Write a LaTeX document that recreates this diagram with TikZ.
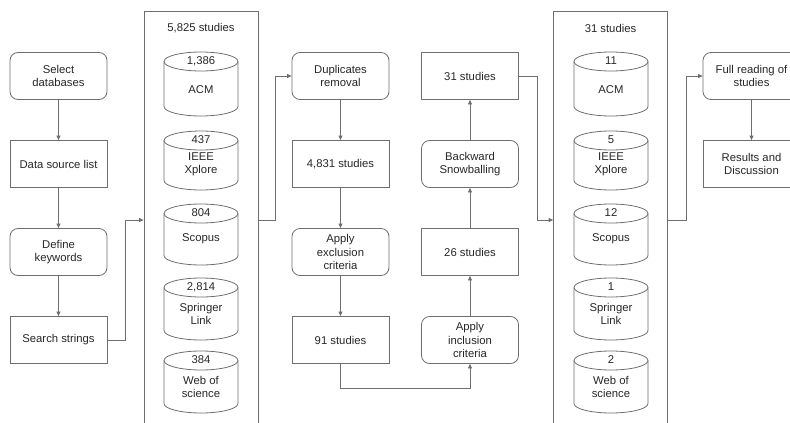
\documentclass[tikz,border=0pt]{standalone}
\usepackage{fontspec}
\setmainfont{Liberation Sans}
\usetikzlibrary{arrows.meta}
\definecolor{linegray}{HTML}{6E6E6E}
\definecolor{textgray}{HTML}{262626}
\tikzset{
  txt/.style={font=\fontsize{11.3}{13.3}\selectfont, text=textgray, align=center, inner sep=0pt},
  plainbox/.style={txt, draw=linegray, line width=0.8pt, minimum width=97pt, minimum height=47pt},
  roundbox/.style={plainbox, rounded corners=8pt},
  frame/.style={draw=linegray, line width=0.8pt, minimum width=114pt, minimum height=418pt, inner sep=0pt},
  line/.style={draw=linegray, line width=0.8pt},
  arr/.style={line, -{Triangle[length=4.5pt,width=4pt]}}
}
\begin{document}
\begin{tikzpicture}[x=1pt,y=-1pt]
		\useasboundingbox (0,0) rectangle (790,423);
		\clip (0,0) rectangle (790,423);

		% Planning
		\node[roundbox] (select) at (58.5,76) {Select\\databases};
		\node[plainbox] (source) at (58.5,164) {Data source list};
		\node[roundbox] (keywords) at (58.5,252) {Define\\keywords};
		\node[plainbox] (search) at (58.5,340) {Search strings};

		% First search
		\node[frame] (frameA) at (201,220) {};
		\node[txt] (totalA) at (201,28) {5,825 studies};
		\foreach \t/\b/\num/\db in {52/116/{1,386}/ACM, 131/190/437/{IEEE\\Xplore}, 204/265/804/Scopus, 278/340/{2,814}/{Springer\\Link}, 351/413/384/{Web of\\science}} {
			\draw[line] (164,\t+9.5) -- (164,\b-9.5) arc[start angle=180, end angle=360, x radius=37pt, y radius=9.5pt] -- (238,\t+9.5);
			\draw[line] (201,\t+9.5) ellipse [x radius=37pt, y radius=9.5pt];
			\node[txt] at (201,\t+9) {\num};
			\node[txt] at (201,\b-26) {\db};
		}

		% Selection
		\node[roundbox] (dup) at (340.5,76) {Duplicates\\removal};
		\node[plainbox] (s4831) at (340.5,164) {4,831 studies};
		\node[roundbox] (excl) at (340.5,252) {Apply\\exclusion\\criteria};
		\node[plainbox] (s91) at (340.5,340) {91 studies};
		\node[roundbox] (incl) at (470,340) {Apply\\inclusion\\criteria};
		\node[plainbox] (s26) at (470,252) {26 studies};
		\node[roundbox] (snow) at (470,164) {Backward\\Snowballing};
		\node[plainbox] (s31) at (470,76) {31 studies};

		% Final set
		\node[frame] (frameB) at (610.5,220) {};
		\node[txt] (totalB) at (610.5,28) {31 studies};
		\foreach \t/\b/\num/\db in {52/116/11/ACM, 131/190/5/{IEEE\\Xplore}, 204/265/12/Scopus, 278/340/1/{Springer\\Link}, 351/413/2/{Web of\\science}} {
			\draw[line] (574,\t+9.5) -- (574,\b-9.5) arc[start angle=180, end angle=360, x radius=37pt, y radius=9.5pt] -- (648,\t+9.5);
			\draw[line] (611,\t+9.5) ellipse [x radius=37pt, y radius=9.5pt];
			\node[txt] at (611,\t+9) {\num};
			\node[txt] at (611,\b-26) {\db};
		}

		% Extraction
		\node[roundbox] (full) at (751.5,76) {Full reading of\\studies};
		\node[plainbox] (results) at (751.5,164) {Results and\\Discussion};

		% Flow
		\draw[arr] (select) -- (source);
		\draw[arr] (source) -- (keywords);
		\draw[arr] (keywords) -- (search);
		\draw[arr] (search.east) -- ++(18,0) |- (frameA.west);
		\draw[arr] (frameA.east) -- ++(17,0) |- (dup.west);
		\draw[arr] (dup) -- (s4831);
		\draw[arr] (s4831) -- (excl);
		\draw[arr] (excl) -- (s91);
		\draw[arr] (s91.south) -- ++(0,24) -| (incl.south);
		\draw[arr] (incl) -- (s26);
		\draw[arr] (s26) -- (snow);
		\draw[arr] (snow) -- (s31);
		\draw[arr] (s31.east) -- ++(18,0) |- (frameB.west);
		\draw[arr] (frameB.east) -- ++(18,0) |- (full.west);
		\draw[arr] (full) -- (results);
	\end{tikzpicture}
\end{document}
